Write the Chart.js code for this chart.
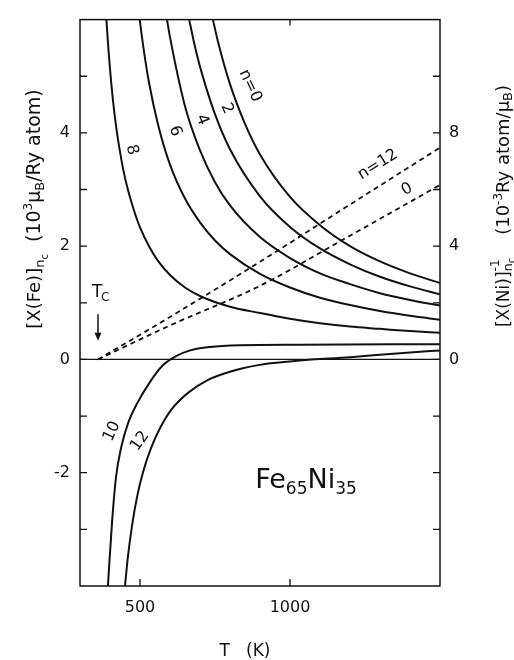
<!DOCTYPE html>
<html>
<head>
<meta charset="utf-8">
<script src="https://cdn.jsdelivr.net/npm/chart.js@4.4.0/dist/chart.umd.min.js"></script>
<style>
html, body { margin: 0; padding: 0; background: #fff; }
#wrap { width: 514px; height: 660px; }
</style>
</head>
<body>
<div id="wrap"><canvas id="chart" width="514" height="660"></canvas></div>
<script>
// [X(Fe)]nc curves, T in K, values in 10^3 muB/Ry atom
var tN0 = [743, 760, 800, 850, 900, 1000, 1100, 1200, 1300, 1400, 1500];
var feN0 = [6.0, 5.61, 4.86, 4.16, 3.62, 2.87, 2.37, 2.00, 1.73, 1.52, 1.35];
var tN2 = [664, 680, 700, 750, 800, 900, 1000, 1100, 1200, 1300, 1400, 1500];
var feN2 = [6.0, 5.60, 5.17, 4.33, 3.71, 2.88, 2.34, 1.96, 1.68, 1.46, 1.29, 1.15];
var tN4 = [590, 600, 650, 700, 750, 800, 900, 1000, 1100, 1200, 1300, 1400, 1500];
var feN4 = [6.0, 5.69, 4.47, 3.69, 3.13, 2.72, 2.16, 1.79, 1.52, 1.33, 1.17, 1.05, 0.95];
var tN6 = [499, 510, 530, 560, 600, 650, 700, 750, 800, 900, 1000, 1100, 1200, 1300, 1400, 1500];
var feN6 = [6.0, 5.56, 4.89, 4.15, 3.44, 2.84, 2.42, 2.10, 1.86, 1.51, 1.27, 1.09, 0.96, 0.855, 0.77, 0.70];
var tN8 = [388, 395, 400, 410, 420, 430, 445, 460, 480, 500, 530, 560, 600, 650, 700, 800, 900, 1000, 1100, 1200, 1300, 1400, 1500];
var feN8 = [6.0, 5.46, 5.13, 4.57, 4.13, 3.77, 3.33, 2.99, 2.63, 2.33, 2.00, 1.74, 1.49, 1.27, 1.12, 0.93, 0.82, 0.72, 0.64, 0.58, 0.54, 0.50, 0.47];
var tN10 = [393, 407, 420, 437, 460, 490, 533, 573, 617, 667, 733, 833, 1033, 1500];
var feN10 = [-4.0, -2.86, -2.08, -1.56, -1.13, -0.78, -0.40, -0.12, 0.05, 0.16, 0.22, 0.25, 0.26, 0.27];
var tN12 = [450, 460, 473, 490, 510, 537, 567, 607, 660, 727, 817, 917, 1033, 1200, 1367, 1500];
var feN12 = [-4.0, -3.47, -2.95, -2.43, -1.99, -1.56, -1.21, -0.87, -0.59, -0.36, -0.19, -0.08, -0.02, 0.04, 0.11, 0.16];

// [X(Ni)]nc^-1 lines, right axis, 10^-3 Ry atom/muB
var tNi = [360, 600, 900, 1200, 1500];
var niN12 = [0, 1.5, 3.45, 5.47, 7.48];
var niN0 = [0, 1.2, 2.6, 4.37, 6.16];

// tick labels
var xTicks = [500, 1000];
var yTicks = [-2, 0, 2, 4];
var y2Ticks = [0, 4, 8];

var FONT = "'DejaVu Sans', sans-serif";

function pts(xs, ys) {
    return xs.map(function (x, i) { return { x: x, y: ys[i] }; });
}

function solid(xs, ys) {
    return {
        data: pts(xs, ys), yAxisID: 'y', borderColor: '#111', borderWidth: 2,
        pointRadius: 0, fill: false, cubicInterpolationMode: 'monotone'
    };
}

function dashed(xs, ys) {
    return {
        data: pts(xs, ys), yAxisID: 'y2', borderColor: '#111', borderWidth: 1.8,
        borderDash: [5, 4], pointRadius: 0, fill: false, cubicInterpolationMode: 'monotone'
    };
}

// draw a run of text pieces (with sub/superscripts) centred on (cx, cy)
function drawRich(ctx, parts, cx, cy, angle) {
    var total = 0;
    parts.forEach(function (p) {
        ctx.font = p.s + 'px ' + FONT;
        if (!p.back) total += ctx.measureText(p.t).width;
    });
    ctx.save();
    ctx.translate(cx, cy);
    ctx.rotate(angle);
    ctx.textBaseline = 'alphabetic';
    ctx.textAlign = 'left';
    var x = -total / 2, mark = x;
    parts.forEach(function (p) {
        ctx.font = p.s + 'px ' + FONT;
        if (p.mark) mark = x;
        var x0 = p.back ? mark : x;
        ctx.fillText(p.t, x0, p.dy || 0);
        if (!p.back) x += ctx.measureText(p.t).width;
    });
    ctx.restore();
}

var curveLabels = [
    { t: '8', x: 473, y: 3.70, r: 75 },
    { t: '6', x: 617, y: 4.03, r: 70 },
    { t: '4', x: 707, y: 4.23, r: 68 },
    { t: '2', x: 790, y: 4.43, r: 65 },
    { t: 'n=0', x: 867, y: 4.83, r: 65 },
    { t: '10', x: 407, y: -1.27, r: -65 },
    { t: '12', x: 500, y: -1.44, r: -55 },
    { t: 'n=12', x: 1293, y: 3.44, r: -32 },
    { t: '0', x: 1390, y: 3.0, r: -28 }
];

var decor = {
    id: 'decor',
    afterDraw: function (chart) {
        var ctx = chart.ctx, a = chart.chartArea;
        var sx = chart.scales.x, sy = chart.scales.y, sy2 = chart.scales.y2;
        ctx.save();
        ctx.strokeStyle = '#111';
        ctx.fillStyle = '#111';

        // frame
        ctx.lineWidth = 1.5;
        ctx.strokeRect(a.left, a.top, a.right - a.left, a.bottom - a.top);

        // zero line
        ctx.lineWidth = 1.2;
        var y0 = sy.getPixelForValue(0);
        ctx.beginPath();
        ctx.moveTo(a.left, y0);
        ctx.lineTo(a.right, y0);
        ctx.stroke();

        // inward ticks
        ctx.lineWidth = 1.3;
        ctx.beginPath();
        [-3, -2, -1, 0, 1, 2, 3, 4, 5].forEach(function (v) {
            var py = sy.getPixelForValue(v);
            ctx.moveTo(a.left, py); ctx.lineTo(a.left + 7, py);
            var py2 = sy2.getPixelForValue(v * 2);
            ctx.moveTo(a.right, py2); ctx.lineTo(a.right - 7, py2);
        });
        xTicks.forEach(function (v) {
            var px = sx.getPixelForValue(v);
            ctx.moveTo(px, a.bottom); ctx.lineTo(px, a.bottom - 7);
        });
        var pt = sx.getPixelForValue(1000);
        ctx.moveTo(pt, a.top); ctx.lineTo(pt, a.top + 6);
        ctx.stroke();

        // labels on the curves
        ctx.textAlign = 'center';
        ctx.textBaseline = 'middle';
        ctx.font = '16px ' + FONT;
        curveLabels.forEach(function (l) {
            ctx.save();
            ctx.translate(sx.getPixelForValue(l.x), sy.getPixelForValue(l.y));
            ctx.rotate(l.r * Math.PI / 180);
            ctx.fillText(l.t, 0, 0);
            ctx.restore();
        });

        // Tc arrow
        var tcx = sx.getPixelForValue(360);
        var ya = sy.getPixelForValue(0.8), yb = sy.getPixelForValue(0.33);
        ctx.lineWidth = 1.5;
        ctx.beginPath();
        ctx.moveTo(tcx, ya); ctx.lineTo(tcx, yb - 4);
        ctx.stroke();
        ctx.beginPath();
        ctx.moveTo(tcx - 3.5, yb - 8); ctx.lineTo(tcx + 3.5, yb - 8); ctx.lineTo(tcx, yb);
        ctx.closePath();
        ctx.fill();
        ctx.textAlign = 'left';
        ctx.textBaseline = 'alphabetic';
        ctx.font = '17px ' + FONT;
        ctx.fillText('T', tcx - 6, sy.getPixelForValue(1.1));
        ctx.font = '12px ' + FONT;
        ctx.fillText('C', tcx + 3, sy.getPixelForValue(1.03));

        // alloy name
        drawRich(ctx, [
            { t: 'Fe', s: 27 }, { t: '65', s: 17, dy: 6 },
            { t: 'Ni', s: 27 }, { t: '35', s: 17, dy: 6 }
        ], 306, 488, 0);

        // axis titles
        drawRich(ctx, [
            { t: '[X(Fe)]', s: 18 }, { t: 'n', s: 13, dy: 4 }, { t: 'c', s: 10, dy: 8 },
            { t: '  (10', s: 19 }, { t: '3', s: 12, dy: -8 }, { t: 'μ', s: 19 },
            { t: 'B', s: 13, dy: 4 }, { t: '/Ry atom)', s: 19 }
        ], 40, 209, -Math.PI / 2);
        drawRich(ctx, [
            { t: '[X(Ni)]', s: 17 }, { t: 'n', s: 13, dy: 3, mark: true }, { t: 'c', s: 10, dy: 6 },
            { t: '-1', s: 12, dy: -10, back: true },
            { t: '    (10', s: 18 }, { t: '-3', s: 12, dy: -7 }, { t: 'Ry atom/μ', s: 18 },
            { t: 'B', s: 13, dy: 3 }, { t: ')', s: 18 }
        ], 509, 206, -Math.PI / 2);

        ctx.textAlign = 'center';
        ctx.font = '17px ' + FONT;
        ctx.fillText('T   (K)', 245, 656);
        ctx.restore();
    }
};

function plain(v) { return String(v); }

var ctx = document.getElementById('chart').getContext('2d');
var chart = new Chart(ctx, {
    type: 'line',
    data: {
        datasets: [
            solid(tN0, feN0), solid(tN2, feN2), solid(tN4, feN4), solid(tN6, feN6),
            solid(tN8, feN8), solid(tN10, feN10), solid(tN12, feN12),
            dashed(tNi, niN12), dashed(tNi, niN0)
        ]
    },
    options: {
        responsive: false,
        animation: false,
        devicePixelRatio: 1,
        layout: { padding: { top: 9, left: 0, right: 0, bottom: 0 } },
        plugins: { legend: { display: false }, tooltip: { enabled: false } },
        scales: {
            x: {
                type: 'linear', position: 'bottom', min: 300, max: 1500,
                grid: { display: false, drawTicks: false }, border: { display: false },
                afterBuildTicks: function (s) { s.ticks = xTicks.map(function (v) { return { value: v }; }); },
                afterFit: function (s) { s.height = 74; },
                ticks: { color: '#111', padding: 12, maxRotation: 0, callback: plain, font: { family: FONT, size: 16 } }
            },
            y: {
                type: 'linear', position: 'left', min: -4, max: 6,
                grid: { display: false, drawTicks: false }, border: { display: false },
                afterBuildTicks: function (s) { s.ticks = yTicks.map(function (v) { return { value: v }; }); },
                afterFit: function (s) { s.width = 80; },
                ticks: { color: '#111', padding: 10, callback: plain, font: { family: FONT, size: 16 } }
            },
            y2: {
                type: 'linear', position: 'right', min: -8, max: 12,
                grid: { display: false, drawTicks: false }, border: { display: false },
                afterBuildTicks: function (s) { s.ticks = y2Ticks.map(function (v) { return { value: v }; }); },
                afterFit: function (s) { s.width = 74; },
                ticks: { color: '#111', padding: 9, callback: plain, font: { family: FONT, size: 16 } }
            }
        }
    },
    plugins: [decor]
});
</script>
</body>
</html>
